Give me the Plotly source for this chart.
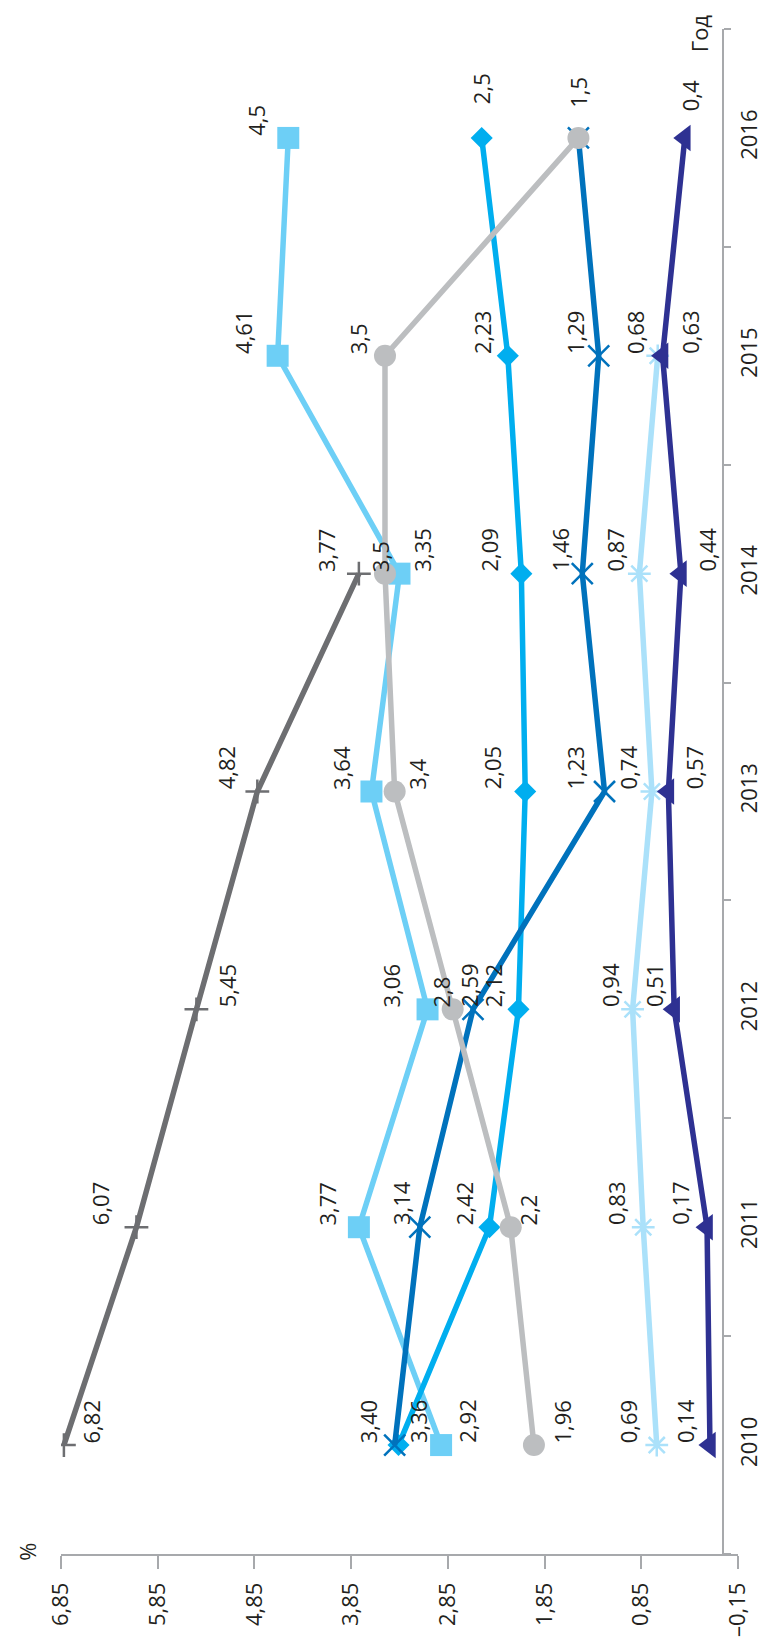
import plotly.graph_objects as go

# ---------------- data ----------------
years = ['2010', '2011', '2012', '2013', '2014', '2015', '2016']

s_plus = [6.82, 6.07, 5.45, 4.82, 3.77, None, None]
s_square = [2.92, 3.77, 3.06, 3.64, 3.35, 4.61, 4.50]
s_circle = [1.96, 2.20, 2.80, 3.40, 3.50, 3.50, 1.50]
s_x = [3.40, 3.14, 2.59, 1.23, 1.46, 1.29, 1.50]
s_diamond = [3.36, 2.42, 2.12, 2.05, 2.09, 2.23, 2.50]
s_star = [0.69, 0.83, 0.94, 0.74, 0.87, 0.68, None]
s_tri = [0.14, 0.17, 0.51, 0.57, 0.44, 0.63, 0.40]

lab_plus = ['6,82', '6,07', '5,45', '4,82', '3,77', None, None]
lab_square = ['2,92', '3,77', '3,06', '3,64', '3,35', '4,61', '4,5']
lab_circle = ['1,96', '2,2', '2,8', '3,4', '3,5', '3,5', '1,5']
lab_x = ['3,40', '3,14', '2,59', '1,23', '1,46', '1,29', None]
lab_diamond = ['3,36', '2,42', '2,12', '2,05', '2,09', '2,23', '2,5']
lab_star = ['0,69', '0,83', '0,94', '0,74', '0,87', '0,68', None]
lab_tri = ['0,14', '0,17', '0,51', '0,57', '0,44', '0,63', '0,4']

x_tickvals = [6.85, 5.85, 4.85, 3.85, 2.85, 1.85, 0.85, -0.15]
x_ticktext = ['6,85', '5,85', '4,85', '3,85', '2,85', '1,85', '0,85', '\u20130,15']

# ---------------- styles ----------------
FONT = 'Open Sans'
FS = 22
TXT = '#231f20'
AX = '#a7a9ac'

series = [
    dict(v=s_plus, lab=lab_plus, color='#6d6e71', symbol='cross-thin-open', size=17, mlw=2.5,
         dx=[27, -37, 30, -31, -33, 0, 0], dy=[0] * 7),
    dict(v=s_square, lab=lab_square, color='#6dcff6', symbol='square', size=22, mlw=0,
         dx=[25, -32, -37, -31, 23, -34, -32], dy=[0] * 7),
    dict(v=s_diamond, lab=lab_diamond, color='#00aeef', symbol='diamond', size=17, mlw=0,
         dx=[19, -26, -26, -33, -32, -26, 0], dy=[0, 0, 0, 0, 0, 0, 32]),
    dict(v=s_x, lab=lab_x, color='#0072bc', symbol='x-thin-open', size=21, mlw=2.5,
         dx=[-27, -19, -4, -30, -22, -23, 0], dy=[0] * 7),
    dict(v=s_circle, lab=lab_circle, color='#bcbec0', symbol='circle', size=22, mlw=0,
         dx=[28, 17, -12, 22, -5, -27, 0], dy=[0, 0, 0, 0, 0, 0, 28]),
    dict(v=s_star, lab=lab_star, color='#abe1fa', symbol='asterisk-open', size=19, mlw=2.5,
         dx=[-29, -28, -22, -24, -24, -22, 0], dy=[0] * 7),
    dict(v=s_tri, lab=lab_tri, color='#2e3192', symbol='triangle-left', size=23, mlw=0,
         dx=[-25, -27, -20, 26, 26, 28, 6], dy=[0, 0, 0, 0, 0, 0, 25]),
]

fig = go.Figure()
annotations = []
for s in series:
    fig.add_trace(go.Scatter(
        x=s['v'], y=years, mode='lines+markers',
        line=dict(color=s['color'], width=5.5),
        marker=dict(symbol=s['symbol'], size=s['size'], color=s['color'],
                    line=dict(color=s['color'], width=s['mlw'])),
        hoverinfo='skip', showlegend=False,
    ))
    for i, (val, lab) in enumerate(zip(s['v'], s['lab'])):
        if val is None or lab is None:
            continue
        annotations.append(dict(
            x=val, y=i, xref='x', yref='y', text=lab, showarrow=False,
            textangle=-90, xanchor='center', yanchor='bottom',
            xshift=s['dx'][i], yshift=s['dy'][i],
            font=dict(family=FONT, size=FS, color=TXT),
        ))

annotations.append(dict(x=-0.05, y=0.0015, xref='paper', yref='paper', text='%',
                        showarrow=False, textangle=-90, xanchor='center', yanchor='middle',
                        font=dict(family=FONT, size=FS, color=TXT)))
annotations.append(dict(x=0.942, y=0.997, xref='paper', yref='paper', text='Год',
                        showarrow=False, textangle=-90, xanchor='center', yanchor='middle',
                        font=dict(family=FONT, size=FS, color=TXT)))

fig.update_layout(
    width=767, height=1641,
    margin=dict(l=53, r=27, t=21, b=85),
    plot_bgcolor='white', paper_bgcolor='white',
    font=dict(family=FONT, size=FS, color=TXT),
    showlegend=False,
    annotations=annotations,
    xaxis=dict(
        range=[6.85, -0.15], tickmode='array', tickvals=x_tickvals, ticktext=x_ticktext,
        tickangle=-90, ticks='outside', ticklen=13, tickwidth=1.5, tickcolor=AX,
        ticklabelstandoff=5,
        showline=True, linecolor=AX, linewidth=1.5, showgrid=False, zeroline=False,
        tickfont=dict(family=FONT, size=FS, color=TXT),
    ),
    yaxis=dict(
        type='category', categoryorder='array', categoryarray=years, range=[-0.5, 6.5],
        anchor='free', position=6.85 / 7, side='right',
        tickangle=-90, ticks='outside', ticklen=7, tickwidth=1.5, tickcolor=AX,
        tickson='boundaries', ticklabelstandoff=6,
        showline=True, linecolor=AX, linewidth=1.5, showgrid=False, zeroline=False,
        tickfont=dict(family=FONT, size=FS, color=TXT),
    ),
)

fig.write_html('out.html')
